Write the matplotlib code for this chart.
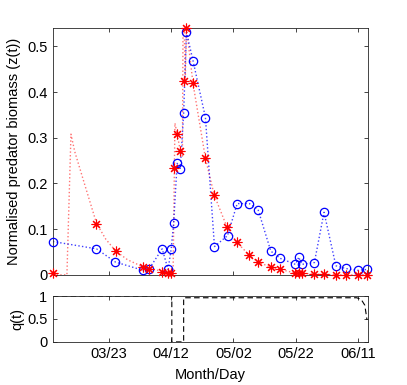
import matplotlib
matplotlib.use("Agg")
import matplotlib.pyplot as plt
import numpy as np

plt.rcParams['font.family'] = ['Liberation Sans', 'DejaVu Sans']

# Days counted from March 1 (day 0)
tick_days = [22, 42, 62, 82, 102]
tick_labels = ["03/23", "04/12", "05/02", "05/22", "06/11"]

# Observed predator biomass (blue circles)
obs_day = [4, 18, 24.1, 33.0, 34.9, 39.1, 41.0, 42.0, 42.8, 43.9, 44.9, 46.0, 46.9,
           49.0, 53.0, 55.9, 60.1, 63.2, 67.1, 69.9, 74.0, 77.1, 81.9, 83.0, 83.9,
           88.0, 91.1, 94.9, 98.0, 102.0, 105.0]
obs_val = [0.073, 0.057, 0.028, 0.010, 0.013, 0.057, 0.012, 0.057, 0.114, 0.244, 0.231,
           0.354, 0.531, 0.469, 0.344, 0.062, 0.086, 0.156, 0.156, 0.143, 0.052, 0.036,
           0.023, 0.039, 0.023, 0.027, 0.137, 0.020, 0.014, 0.010, 0.012]

# Model estimates (red asterisks)
est_day = [4, 18, 24.2, 33.1, 35.0, 39.0, 41.0, 41.8, 42.9, 43.9, 44.9, 46.0, 46.9,
           49.0, 53.0, 55.8, 59.9, 63.0, 67.1, 69.9, 74.0, 77.0, 81.9, 83.0, 83.9,
           88.0, 91.1, 94.9, 98.0, 102.0, 105.0]
est_val = [0.004, 0.111, 0.052, 0.017, 0.012, 0.007, 0.005, 0.004, 0.234, 0.309, 0.272,
           0.424, 0.541, 0.419, 0.255, 0.175, 0.105, 0.072, 0.043, 0.028, 0.017, 0.012,
           0.004, 0.004, 0.004, 0.001, 0.001, 0.0, 0.0, 0.0, 0.0]

# Model trajectory (red dotted curve)
traj_day = [4, 8.5, 9.8, 11, 13, 15, 18, 21, 24.2, 28, 33.1, 37, 41.0, 42.2, 42.6,
            43.2, 43.9, 44.9, 45.6, 45.8, 46.2, 46.5, 46.9, 49.0, 53.0, 55.8, 59.9,
            63.0, 67.1, 69.9, 74.0, 77.0, 81.9, 83.9, 88.0, 91.1, 94.9, 98.0, 102.0, 105.0]
traj_val = [0.0, 0.0, 0.308, 0.27, 0.225, 0.18, 0.113, 0.078, 0.052, 0.033, 0.017,
            0.011, 0.006, 0.004, 0.0, 0.332, 0.309, 0.272, 0.26, 0.54, 0.53, 0.42,
            0.541, 0.419, 0.255, 0.175, 0.105, 0.072, 0.043, 0.028, 0.017, 0.012,
            0.004, 0.004, 0.001, 0.001, 0.0, 0.0, 0.0, 0.0]

# Control q(t)
q_day = [4, 42.2, 42.2, 46.0, 46.0, 101.6, 103.0, 104.2, 104.9]
q_val = [1.0, 1.0, 0.0, 0.0, 0.963, 0.963, 0.93, 0.8, 0.48]

fig = plt.figure(figsize=(4.07, 3.85), dpi=100)
ax = fig.add_axes([0.130, 0.286, 0.774, 0.641])
axq = fig.add_axes([0.130, 0.112, 0.774, 0.119])

frame_col = '#262626'
xlim = (4, 105.2)

ax.plot(traj_day, traj_val, ':', color=(1, 0, 0), lw=1.0, alpha=0.55)
ax.plot(obs_day, obs_val, ':', color=(0, 0, 1), lw=1.0, alpha=0.75)
ax.plot(obs_day, obs_val, 'o', mfc='none', mec=(0, 0, 1), ms=6, mew=0.9, ls='none',
        clip_on=False, zorder=4)
ax.plot(est_day, est_val, marker=(8, 2, 0), color=(1, 0, 0), ms=7, mew=0.8, ls='none',
        clip_on=False, zorder=5)
ax.set_xlim(*xlim)
ax.set_ylim(0, 0.54)
ax.set_xticks(tick_days)
ax.set_xticklabels([])
ax.set_yticks([0, 0.1, 0.2, 0.3, 0.4, 0.5])
ax.set_yticklabels(["0", "0.1", "0.2", "0.3", "0.4", "0.5"])
ax.set_ylabel("Normalised predator biomass (z(t))", fontsize=10.5, labelpad=4)

axq.plot(q_day, q_val, '--', color='black', lw=0.8, dashes=(5, 3))
axq.set_xlim(*xlim)
axq.set_ylim(0, 1)
axq.set_xticks(tick_days)
axq.set_xticklabels(tick_labels)
axq.set_yticks([0, 0.5, 1])
axq.set_yticklabels(["0", "0.5", "1"])
axq.set_ylabel("q(t)", fontsize=10.5, labelpad=2)
axq.set_xlabel("Month/Day", fontsize=10.5, labelpad=5)

for a in (ax, axq):
    for s in a.spines.values():
        s.set_color(frame_col)
        s.set_linewidth(0.6)
    a.tick_params(direction='in', length=3, width=0.6, color=frame_col,
                  labelsize=10.5, top=True, right=True, pad=4)

fig.savefig("out.png", dpi=100)
